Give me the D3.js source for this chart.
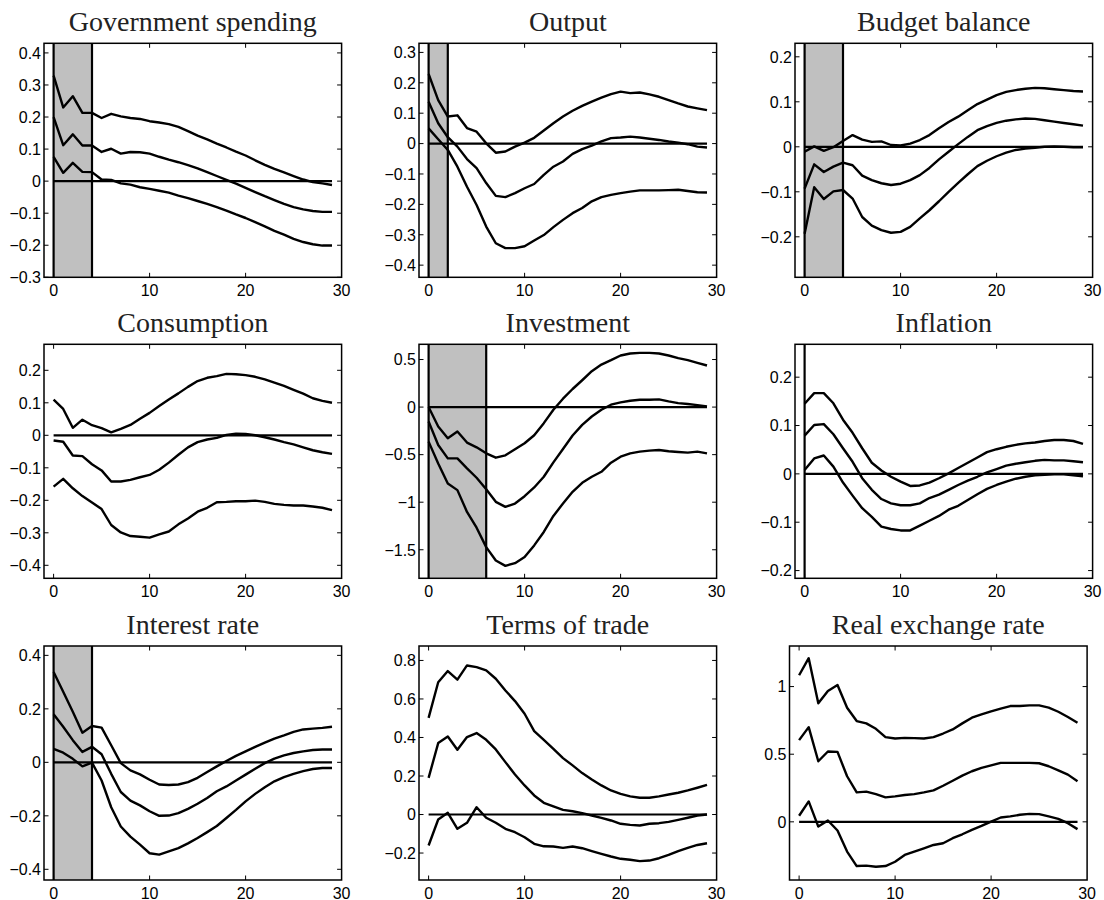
<!DOCTYPE html>
<html>
<head>
<meta charset="utf-8">
<script src="https://cdn.jsdelivr.net/npm/d3@7"></script>
<style>
body { margin: 0; background: #fff; }
</style>
</head>
<body>
<script>
// panel titles, row by row
var titles = ['Government spending', 'Output', 'Budget balance',
              'Consumption', 'Investment', 'Inflation',
              'Interest rate', 'Terms of trade', 'Real exchange rate'];

// horizon 0..29
var horizon = d3.range(0, 30);

// end of the shaded period (null = no shading)
var shadeEnd = [4, 2, 4, null, 6, 0, 4, null, null];

var yDomains = [[-0.3, 0.43], [-0.44, 0.33], [-0.29, 0.23],
                [-0.44, 0.28], [-1.8, 0.66], [-0.216, 0.268],
                [-0.44, 0.435], [-0.34, 0.875], [-0.43, 1.30]];

var yTicks = [[-0.3, -0.2, -0.1, 0, 0.1, 0.2, 0.3, 0.4],
              [-0.4, -0.3, -0.2, -0.1, 0, 0.1, 0.2, 0.3],
              [-0.2, -0.1, 0, 0.1, 0.2],
              [-0.4, -0.3, -0.2, -0.1, 0, 0.1, 0.2],
              [-1.5, -1, -0.5, 0, 0.5],
              [-0.2, -0.1, 0, 0.1, 0.2],
              [-0.4, -0.2, 0, 0.2, 0.4],
              [-0.2, 0, 0.2, 0.4, 0.6, 0.8],
              [0, 0.5, 1]];

var xTicks = [0, 10, 20, 30];

// each panel: upper band, point estimate, lower band
var govSpending = [
  [0.329,0.230,0.265,0.213,0.213,0.197,0.210,0.202,0.197,0.194,0.187,0.183,0.178,0.169,0.156,0.142,0.130,0.117,0.105,0.092,0.080,0.065,0.051,0.038,0.027,0.016,0.005,-0.003,-0.007,-0.012],
  [0.200,0.112,0.146,0.111,0.111,0.091,0.101,0.086,0.091,0.090,0.086,0.076,0.067,0.059,0.050,0.040,0.028,0.016,0.004,-0.008,-0.021,-0.034,-0.047,-0.059,-0.071,-0.081,-0.088,-0.093,-0.096,-0.096],
  [0.076,0.026,0.057,0.029,0.028,0.005,0.004,-0.007,-0.011,-0.019,-0.024,-0.030,-0.036,-0.045,-0.053,-0.062,-0.071,-0.081,-0.092,-0.104,-0.115,-0.128,-0.141,-0.155,-0.167,-0.180,-0.190,-0.197,-0.201,-0.201]
];
var output = [
  [0.229,0.143,0.089,0.093,0.051,0.039,0.001,-0.030,-0.026,-0.010,0.003,0.019,0.043,0.067,0.089,0.108,0.124,0.138,0.151,0.163,0.171,0.166,0.168,0.162,0.154,0.143,0.132,0.122,0.116,0.110],
  [0.138,0.067,0.021,-0.010,-0.051,-0.081,-0.130,-0.172,-0.176,-0.163,-0.147,-0.133,-0.103,-0.076,-0.059,-0.034,-0.018,-0.007,0.007,0.018,0.020,0.023,0.020,0.016,0.012,0.007,0.003,-0.002,-0.010,-0.013],
  [0.050,0.014,-0.021,-0.076,-0.142,-0.202,-0.273,-0.328,-0.344,-0.344,-0.338,-0.319,-0.301,-0.275,-0.251,-0.229,-0.212,-0.190,-0.176,-0.169,-0.163,-0.158,-0.154,-0.154,-0.154,-0.153,-0.152,-0.156,-0.160,-0.161]
];
var budgetBalance = [
  [-0.011,0.001,-0.009,-0.001,0.013,0.026,0.016,0.011,0.012,0.004,0.003,0.007,0.015,0.026,0.041,0.055,0.067,0.081,0.095,0.105,0.115,0.122,0.126,0.129,0.131,0.130,0.128,0.126,0.124,0.123],
  [-0.093,-0.039,-0.056,-0.044,-0.035,-0.041,-0.064,-0.074,-0.081,-0.085,-0.082,-0.074,-0.063,-0.047,-0.028,-0.011,0.006,0.022,0.037,0.046,0.053,0.058,0.061,0.063,0.062,0.059,0.056,0.053,0.050,0.047],
  [-0.193,-0.090,-0.116,-0.099,-0.096,-0.115,-0.156,-0.175,-0.185,-0.191,-0.189,-0.178,-0.159,-0.141,-0.121,-0.100,-0.080,-0.061,-0.043,-0.031,-0.021,-0.013,-0.007,-0.004,-0.002,0.000,0.001,0.000,-0.001,-0.001]
];
var consumption = [
  [0.110,0.081,0.023,0.048,0.031,0.022,0.009,0.020,0.032,0.051,0.069,0.090,0.110,0.129,0.149,0.167,0.177,0.182,0.189,0.188,0.185,0.180,0.172,0.162,0.152,0.140,0.128,0.114,0.106,0.100],
  [-0.016,-0.020,-0.062,-0.064,-0.089,-0.108,-0.142,-0.142,-0.137,-0.129,-0.122,-0.106,-0.084,-0.060,-0.037,-0.021,-0.013,-0.008,0.001,0.005,0.004,0.000,-0.006,-0.013,-0.021,-0.028,-0.037,-0.046,-0.052,-0.057],
  [-0.158,-0.134,-0.163,-0.187,-0.207,-0.227,-0.276,-0.299,-0.310,-0.312,-0.315,-0.305,-0.296,-0.274,-0.256,-0.235,-0.223,-0.206,-0.205,-0.203,-0.203,-0.201,-0.205,-0.211,-0.214,-0.216,-0.216,-0.219,-0.223,-0.230]
];
var investment = [
  [0.000,-0.204,-0.327,-0.257,-0.373,-0.423,-0.486,-0.532,-0.507,-0.444,-0.380,-0.296,-0.169,-0.028,0.088,0.190,0.282,0.377,0.447,0.493,0.542,0.563,0.570,0.570,0.563,0.542,0.514,0.493,0.465,0.437],
  [-0.151,-0.398,-0.539,-0.539,-0.644,-0.743,-0.863,-0.996,-1.049,-1.014,-0.937,-0.845,-0.732,-0.581,-0.440,-0.299,-0.187,-0.099,-0.028,0.025,0.049,0.067,0.077,0.077,0.081,0.060,0.042,0.032,0.021,0.007],
  [-0.363,-0.592,-0.803,-0.873,-1.102,-1.268,-1.472,-1.613,-1.669,-1.641,-1.577,-1.454,-1.313,-1.144,-1.014,-0.891,-0.796,-0.732,-0.680,-0.585,-0.521,-0.486,-0.468,-0.458,-0.451,-0.465,-0.472,-0.479,-0.468,-0.486]
];
var inflation = [
  [0.145,0.167,0.167,0.146,0.112,0.085,0.053,0.023,0.007,-0.006,-0.016,-0.025,-0.024,-0.018,-0.009,0.001,0.012,0.023,0.034,0.045,0.051,0.056,0.060,0.063,0.065,0.068,0.070,0.070,0.068,0.062],
  [0.079,0.101,0.103,0.082,0.053,0.025,-0.009,-0.033,-0.052,-0.061,-0.065,-0.065,-0.061,-0.050,-0.043,-0.033,-0.023,-0.014,-0.006,0.003,0.010,0.017,0.021,0.024,0.027,0.029,0.028,0.028,0.026,0.024],
  [0.008,0.032,0.038,0.015,-0.018,-0.045,-0.071,-0.089,-0.109,-0.114,-0.117,-0.117,-0.107,-0.097,-0.087,-0.074,-0.066,-0.054,-0.042,-0.031,-0.023,-0.016,-0.010,-0.006,-0.003,-0.002,-0.001,-0.001,-0.003,-0.005]
];
var interestRate = [
  [0.338,0.264,0.189,0.111,0.136,0.130,0.064,-0.003,-0.030,-0.045,-0.065,-0.083,-0.085,-0.083,-0.074,-0.058,-0.036,-0.015,0.005,0.024,0.041,0.058,0.074,0.089,0.101,0.114,0.123,0.126,0.129,0.133],
  [0.180,0.133,0.083,0.039,0.058,0.030,-0.043,-0.111,-0.143,-0.161,-0.183,-0.200,-0.199,-0.190,-0.174,-0.155,-0.133,-0.108,-0.090,-0.068,-0.046,-0.024,-0.003,0.014,0.026,0.035,0.041,0.046,0.048,0.048],
  [0.050,0.036,0.013,-0.015,-0.001,-0.068,-0.168,-0.240,-0.278,-0.308,-0.340,-0.345,-0.333,-0.321,-0.303,-0.283,-0.261,-0.238,-0.208,-0.178,-0.146,-0.118,-0.093,-0.071,-0.055,-0.043,-0.033,-0.025,-0.021,-0.021]
];
var termsOfTrade = [
  [0.502,0.687,0.745,0.700,0.774,0.765,0.748,0.705,0.644,0.589,0.523,0.433,0.388,0.341,0.293,0.255,0.215,0.182,0.151,0.125,0.107,0.094,0.087,0.087,0.094,0.104,0.113,0.125,0.139,0.154],
  [0.190,0.371,0.405,0.336,0.402,0.423,0.388,0.338,0.272,0.208,0.151,0.099,0.061,0.042,0.024,0.017,0.007,-0.005,-0.017,-0.031,-0.048,-0.054,-0.057,-0.048,-0.045,-0.038,-0.028,-0.017,-0.005,0.000],
  [-0.161,-0.026,0.009,-0.074,-0.043,0.038,-0.017,-0.043,-0.074,-0.092,-0.118,-0.152,-0.165,-0.166,-0.173,-0.166,-0.175,-0.190,-0.204,-0.218,-0.230,-0.235,-0.242,-0.239,-0.227,-0.210,-0.190,-0.173,-0.158,-0.149]
];
var realExchangeRate = [
  [1.084,1.210,0.876,0.968,1.012,0.844,0.745,0.728,0.688,0.626,0.616,0.621,0.619,0.616,0.626,0.653,0.683,0.728,0.770,0.795,0.817,0.837,0.856,0.856,0.861,0.861,0.844,0.814,0.775,0.733],
  [0.604,0.700,0.448,0.520,0.517,0.337,0.218,0.223,0.205,0.181,0.188,0.198,0.205,0.218,0.233,0.267,0.304,0.342,0.374,0.399,0.418,0.436,0.436,0.436,0.436,0.433,0.411,0.381,0.349,0.300],
  [0.045,0.151,-0.035,0.010,-0.064,-0.220,-0.327,-0.324,-0.332,-0.327,-0.295,-0.245,-0.220,-0.196,-0.171,-0.158,-0.121,-0.092,-0.059,-0.030,0.002,0.032,0.040,0.052,0.059,0.057,0.040,0.022,-0.010,-0.054]
];

var series = [govSpending, output, budgetBalance, consumption, investment,
              inflation, interestRate, termsOfTrade, realExchangeRate];

// layout
var W = 1104, H = 900;
var colLeft = [44, 419, 795];
var rowTop = [43.3, 344.3, 646];
var pw = 297.6, ph = 234;
var tickLen = 4.5;

var svg = d3.select('body').append('svg')
    .attr('width', W)
    .attr('height', H)
    .style('display', 'block');

var fmt = function(d){
    if (d === 0) return '0';
    return String(d).replace('-', '\u2212');
};

titles.forEach(function(title, i){
    var col = i % 3, row = Math.floor(i / 3);
    var left = colLeft[col];
    if (i === 8) left = 789.5;   // last panel sits a bit to the left
    var top = rowTop[row];

    var x = d3.scaleLinear().domain([-1, 30]).range([0, pw]);
    var y = d3.scaleLinear().domain(yDomains[i]).range([ph, 0]);

    var g = svg.append('g')
        .attr('class', 'panel')
        .attr('transform', 'translate(' + left + ',' + top + ')');

    // shaded period
    if (shadeEnd[i] !== null) {
        g.append('rect')
            .attr('x', x(0))
            .attr('y', 0)
            .attr('width', x(shadeEnd[i]) - x(0))
            .attr('height', ph)
            .style('fill', '#c0c0c0');
        g.selectAll('.shade-edge')
            .data(shadeEnd[i] === 0 ? [0] : [0, shadeEnd[i]])
            .enter()
            .append('line')
            .attr('class', 'shade-edge')
            .attr('x1', function(d){ return x(d); })
            .attr('x2', function(d){ return x(d); })
            .attr('y1', 0)
            .attr('y2', ph)
            .style('stroke', '#000')
            .style('stroke-width', 2.2);
    }

    // zero line
    g.append('line')
        .attr('x1', x(0))
        .attr('x2', x(29))
        .attr('y1', y(0))
        .attr('y2', y(0))
        .style('stroke', '#000')
        .style('stroke-width', 2.2);

    var line = d3.line()
        .x(function(d, k){ return x(horizon[k]); })
        .y(function(d){ return y(d); });

    g.selectAll('.irf')
        .data(series[i])
        .enter()
        .append('path')
        .attr('class', 'irf')
        .attr('d', line)
        .style('fill', 'none')
        .style('stroke', '#000')
        .style('stroke-width', 2.4)
        .style('stroke-linejoin', 'round');

    // frame
    g.append('rect')
        .attr('x', 0)
        .attr('y', 0)
        .attr('width', pw)
        .attr('height', ph)
        .style('fill', 'none')
        .style('stroke', '#000')
        .style('stroke-width', 1.5);

    // inward ticks on all four sides
    var xt = xTicks.filter(function(d){ return d < 30; });
    g.selectAll('.xt-b').data(xt).enter().append('line')
        .attr('x1', function(d){ return x(d); }).attr('x2', function(d){ return x(d); })
        .attr('y1', ph).attr('y2', ph - tickLen)
        .style('stroke', '#000').style('stroke-width', 1);
    g.selectAll('.xt-t').data(xt).enter().append('line')
        .attr('x1', function(d){ return x(d); }).attr('x2', function(d){ return x(d); })
        .attr('y1', 0).attr('y2', tickLen)
        .style('stroke', '#000').style('stroke-width', 1);
    g.selectAll('.yt-l').data(yTicks[i]).enter().append('line')
        .attr('x1', 0).attr('x2', tickLen)
        .attr('y1', function(d){ return y(d); }).attr('y2', function(d){ return y(d); })
        .style('stroke', '#000').style('stroke-width', 1);
    g.selectAll('.yt-r').data(yTicks[i]).enter().append('line')
        .attr('x1', pw).attr('x2', pw - tickLen)
        .attr('y1', function(d){ return y(d); }).attr('y2', function(d){ return y(d); })
        .style('stroke', '#000').style('stroke-width', 1);

    // tick labels
    g.selectAll('.xl').data(xTicks).enter().append('text')
        .attr('x', function(d){ return x(d); })
        .attr('y', ph + 18.5)
        .attr('text-anchor', 'middle')
        .style('font-family', 'Liberation Sans, Arial, sans-serif')
        .style('font-size', '16px')
        .style('fill', '#000')
        .text(fmt);
    g.selectAll('.yl').data(yTicks[i]).enter().append('text')
        .attr('x', -3)
        .attr('y', function(d){ return y(d); })
        .attr('dy', '0.36em')
        .attr('text-anchor', 'end')
        .style('font-family', 'Liberation Sans, Arial, sans-serif')
        .style('font-size', '16px')
        .style('fill', '#000')
        .text(fmt);

    // title
    g.append('text')
        .attr('x', pw / 2)
        .attr('y', -12.5)
        .attr('text-anchor', 'middle')
        .style('font-family', 'Liberation Serif, Times New Roman, serif')
        .style('font-size', '28px')
        .style('fill', '#222')
        .text(title);
});
</script>
</body>
</html>
